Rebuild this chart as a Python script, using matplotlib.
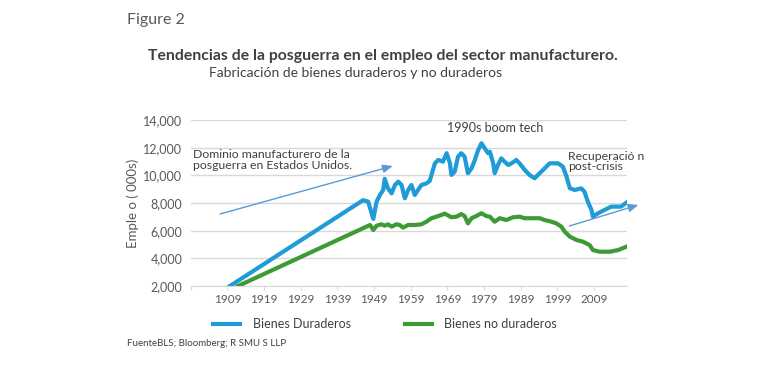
import matplotlib
matplotlib.use("Agg")
import matplotlib.pyplot as plt
from matplotlib.lines import Line2D

plt.rcParams['font.family'] = ['Lato', 'DejaVu Sans']

# ---- data ----
dur_years = [1909.7, 1946.0, 1947.4, 1948.8, 1949.7, 1950.6, 1951.5, 1951.9, 1952.8, 1953.8,
             1954.7, 1955.6, 1956.5, 1957.4, 1958.3, 1959.2, 1960.1, 1961.0, 1961.9, 1963.3,
             1964.2, 1965.6, 1966.5, 1967.8, 1968.8, 1969.7, 1970.1, 1971.0, 1971.9, 1972.8,
             1973.7, 1974.6, 1975.6, 1976.5, 1977.4, 1978.3, 1979.2, 1980.1, 1980.6, 1981.5,
             1981.9, 1982.8, 1983.7, 1984.6, 1985.6, 1986.5, 1987.8, 1988.7, 1990.1, 1991.4,
             1992.8, 1993.7, 1995.1, 1996.9, 1998.3, 1999.2, 2000.5, 2001.5, 2002.4, 2003.7,
             2005.5, 2006.4, 2007.3, 2008.3, 2008.7, 2010.1, 2011.9, 2013.7, 2015.1, 2016.4,
             2017.8]
dur_values = [2000, 8200, 8100, 6850, 8100, 8580, 8940, 9750, 9060, 8700,
              9300, 9540, 9300, 8340, 8940, 9300, 8580, 8940, 9300, 9420,
              9600, 10870, 11110, 10990, 11600, 10870, 10030, 10270, 11350, 11600,
              11350, 10150, 10510, 11110, 11830, 12320, 11950, 11600, 11710, 10870,
              10150, 10750, 11230, 10990, 10750, 10870, 11110, 10870, 10390, 10030,
              9790, 10030, 10390, 10870, 10870, 10870, 10630, 9910, 9070, 8940,
              9060, 8820, 8100, 7500, 7010, 7260, 7500, 7740, 7740, 7740,
              8020]

nondur_years = [1911.9, 1947.9, 1948.8, 1949.7, 1951.0, 1951.9, 1952.8, 1953.8, 1955.1, 1956.0,
                1956.9, 1958.3, 1960.1, 1961.9, 1963.3, 1964.6, 1966.0, 1968.3, 1970.1, 1971.5,
                1972.8, 1973.7, 1974.6, 1975.6, 1976.9, 1978.3, 1979.6, 1980.6, 1981.9, 1983.3,
                1985.1, 1986.9, 1988.7, 1990.1, 1992.4, 1994.2, 1995.5, 1997.4, 1998.7, 2000.1,
                2001.0, 2002.4, 2004.2, 2006.0, 2007.8, 2008.7, 2010.5, 2013.3, 2015.6, 2017.8]
nondur_values = [2000, 6410, 6050, 6360, 6460, 6360, 6460, 6290, 6460, 6410,
                 6220, 6410, 6410, 6460, 6650, 6890, 7010, 7230, 6970, 7010,
                 7200, 7060, 6530, 6900, 7060, 7260, 7060, 7010, 6650, 6900,
                 6770, 6970, 7010, 6900, 6900, 6900, 6770, 6650, 6530, 6290,
                 5930, 5570, 5330, 5200, 4960, 4600, 4480, 4480, 4600, 4840]

tick_years = [1909, 1919, 1929, 1939, 1949, 1959, 1969, 1979, 1989, 1999, 2009]
y_ticks = [2000, 4000, 6000, 8000, 10000, 12000, 14000]
series_names = ["Bienes Duraderos", "Bienes no duraderos"]

BLUE = "#1f9bd7"
GREEN = "#3e9a34"
GRAY_TXT = "#595959"

fig = plt.figure(figsize=(7.7, 3.67), dpi=100)
ax = fig.add_axes([0.2477, 0.2207, 0.5666, 0.4523])

ax.plot(dur_years, dur_values, color=BLUE, lw=3.0, solid_joinstyle='round', zorder=3)
ax.plot(nondur_years, nondur_values, color=GREEN, lw=3.0, solid_joinstyle='round', zorder=3)

ax.set_xlim(1899, 2018)
ax.set_ylim(2000, 14000)
ax.set_yticks(y_ticks)
ax.set_yticklabels([f"{v:,}" for v in y_ticks])
ax.set_xticks([1899] + tick_years)
ax.set_xticklabels([""] + [str(y) for y in tick_years])
ax.yaxis.grid(True, color="#d9d9d9", lw=1.0)
ax.set_axisbelow(True)
for s in ["top", "right", "left"]:
    ax.spines[s].set_visible(False)
ax.spines["bottom"].set_color("#d9d9d9")
ax.tick_params(axis="y", length=0, pad=6, labelsize=9, labelcolor=GRAY_TXT)
ax.tick_params(axis="x", length=3, color="#d9d9d9", pad=3, labelsize=8.5, labelcolor=GRAY_TXT)

ax.set_ylabel("Emple o ( 000s)", fontsize=9.5, color=GRAY_TXT, labelpad=3)

# annotations
ax.text(1968.8, 13450, "1990s boom tech", fontsize=9, color="#404040", va="center", ha="left")
ax.text(1899.5, 11100, "Dominio manufacturero de la\nposguerra en Estados Unidos.",
        fontsize=8.8, color="#404040", va="center", ha="left", linespacing=0.95)
ax.text(2002.0, 11000, "Recuperació n\npost-crisis", fontsize=8.8, color="#404040",
        va="center", ha="left", linespacing=0.95, clip_on=False)
arrow = dict(arrowstyle="-|>,head_length=0.6,head_width=0.25", color="#5b9bd5", lw=1.0,
             shrinkA=0, shrinkB=0)
ax.annotate("", xy=(1954.1, 10677), xytext=(1907.0, 7206), arrowprops=arrow)
ax.annotate("", xy=(2021.1, 7860), xytext=(2002.3, 6340), arrowprops=arrow,
            annotation_clip=False)

# titles
fig.text(127 / 770, 1 - 20 / 367, "Figure 2", fontsize=11.5, color="#595959", va="center", ha="left")
fig.text(383 / 770, 1 - 56 / 367, "Tendencias de la posguerra en el empleo del sector manufacturero.",
         fontsize=11.3, fontweight="bold", color="#404040", va="center", ha="center")
fig.text(356 / 770, 1 - 73 / 367, "Fabricación de bienes duraderos y no duraderos",
         fontsize=10, color="#404040", va="center", ha="center")
fig.text(127 / 770, 1 - 343 / 367, "FuenteBLS; Bloomberg; R SMU S LLP",
         fontsize=7, color="#404040", va="center", ha="left")

handles = [Line2D([], [], color=BLUE, lw=3), Line2D([], [], color=GREEN, lw=3)]
fig.legend(handles, series_names, loc="center", bbox_to_anchor=(385 / 770, 1 - 324 / 367),
           ncol=2, frameon=False, fontsize=9, handlelength=2.2, handletextpad=1.0,
           columnspacing=4.3, labelcolor="#404040")

fig.savefig("out.png", dpi=100)
